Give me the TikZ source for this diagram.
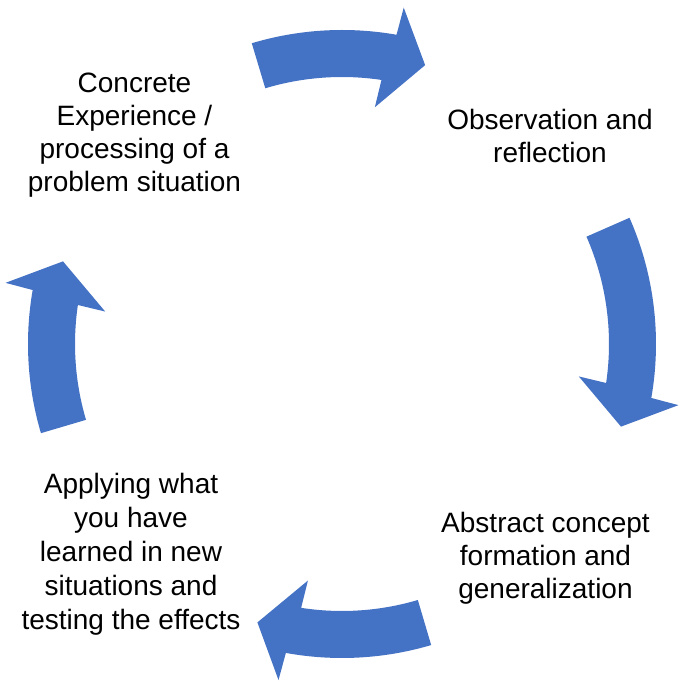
\documentclass[tikz,border=0pt]{standalone}
\usepackage{fontspec}
\setmainfont{Liberation Sans}
\definecolor{arrowblue}{HTML}{4472C4}
% #1 = angle of the arrow tip, #2 = angular length from tip to tail
\newcommand\cyclearrow[2]{%
  \fill[arrowblue] (#1+#2:314pt) arc[start angle=#1+#2, end angle=#1+6.6, radius=314pt]
    -- (#1+6.2:342pt) -- (#1:291pt) -- (#1+8.7:239pt) -- (#1+8.1:267pt)
    arc[start angle=#1+8.1, end angle=#1+#2, radius=267pt] -- cycle;}
\tikzset{
  label text/.style={align=center, inner sep=0pt, text=black,
    font={\fontsize{28}{33}\selectfont}}
}
\begin{document}
\begin{tikzpicture}[x=1pt,y=1pt]
\path[use as bounding box] (0,0) rectangle (685,688);
\begin{scope}[shift={(342,344)}]
  \cyclearrow{73.4}{33.3}
  \cyclearrow{-16.5}{40.2}
  \cyclearrow{-106.9}{33.4}
  \cyclearrow{163.5}{33.0}
\end{scope}
\node[label text] (concrete) at (134.5,552.8) {Concrete\\Experience /\\processing of a\\problem situation};
\node[label text] (observation) at (550,552) {Observation and\\reflection};
\node[label text] (abstract) at (545.5,129.3) {Abstract concept\\formation and\\generalization};
\node[label text, font={\fontsize{28}{34}\selectfont}] (applying) at (131,133.5) {Applying what\\you have\\learned in new\\situations and\\testing the effects};
\end{tikzpicture}
\end{document}
